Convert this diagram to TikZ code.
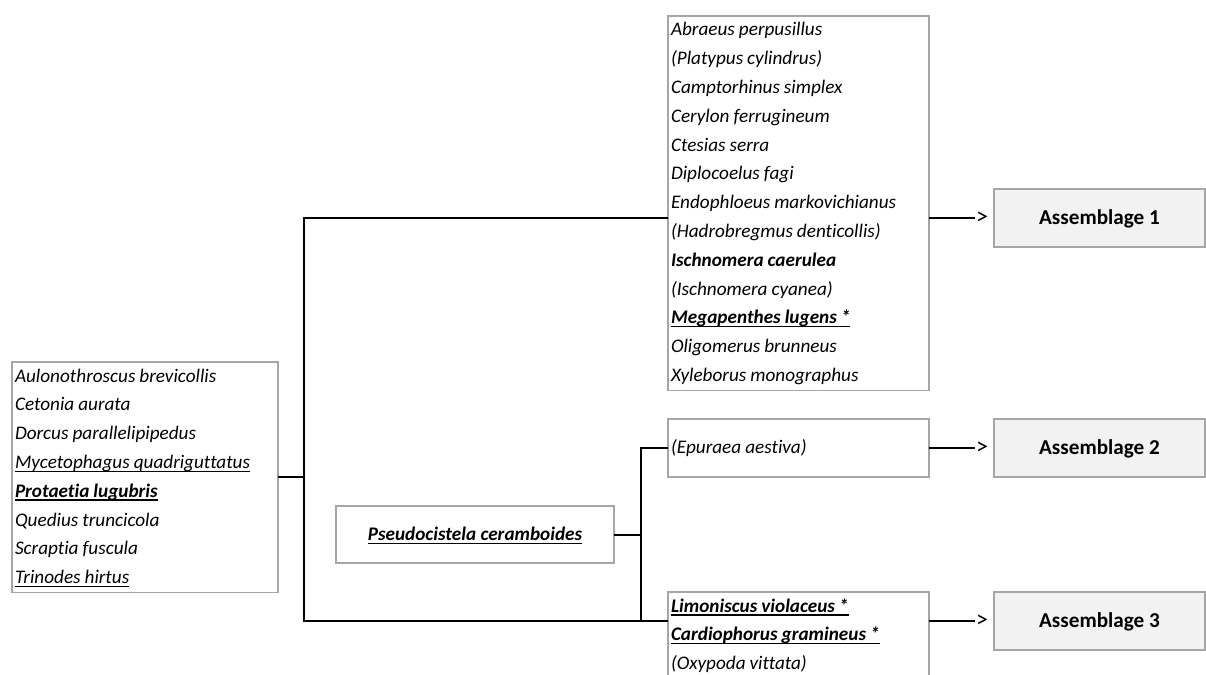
\documentclass[tikz,border=0pt]{standalone}
\usepackage{fontspec}
\setmainfont{Carlito}[Ligatures={NoCommon}]
\newcommand\myul[1]{\setbox0=\hbox{#1}\rlap{\rule[-3.5pt]{\wd0}{1.3pt}}\box0}
\newcommand\R{\spaceskip=4pt\relax\rule[-8.8pt]{0pt}{28.8pt}}
\definecolor{boxgray}{HTML}{A6A6A6}
\definecolor{boxfill}{HTML}{F2F2F2}
\tikzset{
  listbox/.style={draw=boxgray, line width=1.6pt, inner xsep=3pt, inner ysep=0pt,
    outer sep=0pt, align=left, anchor=north west,
    font=\fontsize{19.2}{28.8}\selectfont\itshape},
  abox/.style={draw=boxgray, fill=boxfill, line width=1.6pt, minimum width=211pt,
    minimum height=58pt, inner sep=0pt, outer sep=0pt, text height=12pt, text depth=0pt,
    font=\fontsize{21.2}{28.8}\selectfont\bfseries},
  pbox/.style={draw=boxgray, line width=1.6pt, minimum width=278pt,
    minimum height=57pt, inner sep=0pt, outer sep=0pt, text height=12pt, text depth=0pt,
    font=\fontsize{19.2}{28.8}\selectfont\bfseries\itshape},
  gt/.style={inner xsep=1pt, inner ysep=0pt, font=\fontsize{24}{28.8}\selectfont},
  conn/.style={draw=black, line width=2pt}
}
\begin{document}
\begin{tikzpicture}[x=1pt,y=-1pt]
\useasboundingbox (0,0) rectangle (1206,674);
\clip (0,0) rectangle (1206,674);

\node[listbox, text width=260pt] (L) at (12,362) {%
\R Aulonothroscus brevicollis\\
\R Cetonia aurata\\
\R Dorcus parallelipipedus\\
\R \myul{Mycetophagus quadriguttatus}\\
\R \myul{\bfseries Protaetia lugubris}\\
\R Quedius truncicola\\
\R Scraptia fuscula\\
\R \myul{Trinodes hirtus}};

\node[listbox, text width=255pt] (T) at (668,16) {%
\R Abraeus perpusillus\\
\R (Platypus cylindrus)\\
\R Camptorhinus simplex\\
\R Cerylon ferrugineum\\
\R Ctesias serra\\
\R Diplocoelus fagi\\
\R Endophloeus markovichianus\\
\R (Hadrobregmus denticollis)\\
\R {\bfseries Ischnomera caerulea}\\
\R (Ischnomera cyanea)\\
\R \myul{\bfseries Megapenthes lugens *}\\
\R Oligomerus brunneus\\
\R Xyleborus monographus};

\node[listbox, text width=255pt, minimum height=58pt] (B2) at (668,419) {\R (Epuraea aestiva)};

\node[listbox, text width=255pt] (B3) at (668,592) {%
\R \myul{\bfseries Limoniscus violaceus *}\\
\R \myul{\bfseries Cardiophorus gramineus *}\\
\R (Oxypoda vittata)\\
\R};

\node[pbox] (P) at (475,534.5) {\myul{Pseudocistela ceramboides}};

\node[abox] (A1) at (1099.5,218) {Assemblage 1};
\node[abox] (A2) at (1099.5,448) {Assemblage 2};
\node[abox] (A3) at (1099.5,621) {Assemblage 3};

\node[gt] (g1) at (982,218) {>};
\node[gt] (g2) at (982,448) {>};
\node[gt] (g3) at (982,621) {>};

\coordinate (j1) at ([xshift=26pt]L.east);
\coordinate (j2) at ([xshift=27pt]P.east);

\draw[conn] (L.east) -- (j1);
\draw[conn] (T.west |- A1) -| (j1) |- (B3.west |- A3);
\draw[conn] (P.east) -- (j2);
\draw[conn] (B2.west) -| (j2) -- (j2 |- A3);

\draw[conn] (T.east |- A1) -- (g1.west |- A1);
\draw[conn] (B2.east |- A2) -- (g2.west |- A2);
\draw[conn] (B3.east |- A3) -- (g3.west |- A3);
\end{tikzpicture}
\end{document}
